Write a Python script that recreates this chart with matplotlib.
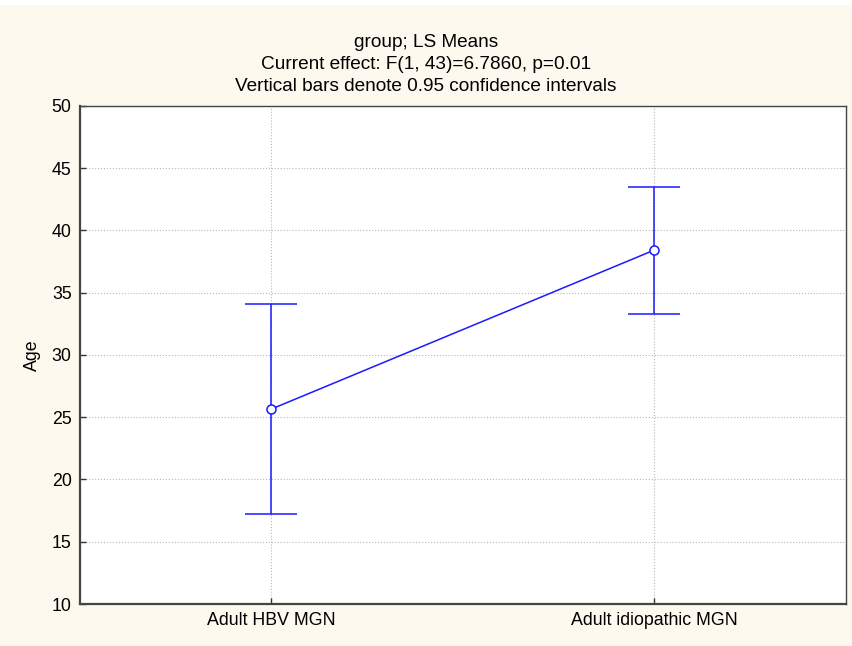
import matplotlib
matplotlib.use('Agg')
import matplotlib.pyplot as plt
from matplotlib.patches import Rectangle

# LS means with 0.95 confidence limits
groups = ['Adult HBV MGN', 'Adult idiopathic MGN']
means = [25.66, 38.43]
ci_low = [17.23, 33.3]
ci_high = [34.1, 43.5]
yticks = [10, 15, 20, 25, 30, 35, 40, 45, 50]
titles = ['group; LS Means',
          'Current effect: F(1, 43)=6.7860, p=0.01',
          'Vertical bars denote 0.95 confidence intervals']

plt.rcParams['font.family'] = ['Liberation Sans', 'DejaVu Sans']
plt.rcParams['font.size'] = 12.8

fig = plt.figure(figsize=(8.52, 6.46), dpi=100)
fig.patch.set_facecolor('white')
fig.patches.append(Rectangle((0, 0), 1, 0.992, transform=fig.transFigure,
                             facecolor='#fdf9ee', edgecolor='none', zorder=-10))

ax = fig.add_axes([0.0939, 0.065, 0.899, 0.771])
ax.set_facecolor('white')

x = list(range(len(groups)))
err_lo = [m - l for m, l in zip(means, ci_low)]
err_hi = [h - m for m, h in zip(means, ci_high)]
ax.errorbar(x, means, yerr=[err_lo, err_hi], color='#1a1aff', lw=1.1,
            capsize=19, capthick=1.1, marker='o', markersize=6.5,
            markerfacecolor='white', markeredgecolor='#1a1aff',
            markeredgewidth=1.1, zorder=3)

ax.set_xlim(-0.5, 1.5)
ax.set_ylim(10, 50)
ax.set_yticks(yticks)
ax.set_xticks(x)
ax.set_xticklabels(groups)
ax.set_ylabel('Age', labelpad=8)

ax.grid(True, color='#b8b8b8', linestyle=':', linewidth=0.8)
ax.set_axisbelow(True)
ax.tick_params(direction='in', length=4, width=1, colors='#333333',
               labelcolor='black', pad=6)

for side in ['left', 'bottom']:
    ax.spines[side].set_linewidth(1.6)
    ax.spines[side].set_color('#444444')
for side in ['top', 'right']:
    ax.spines[side].set_linewidth(1.0)
    ax.spines[side].set_color('#444444')

for i, t in enumerate(titles):
    fig.text(0.5, 0.934 - i * 0.034, t, ha='center', va='center', fontsize=13.7)

fig.savefig('out.png', dpi=100, facecolor=fig.get_facecolor())
